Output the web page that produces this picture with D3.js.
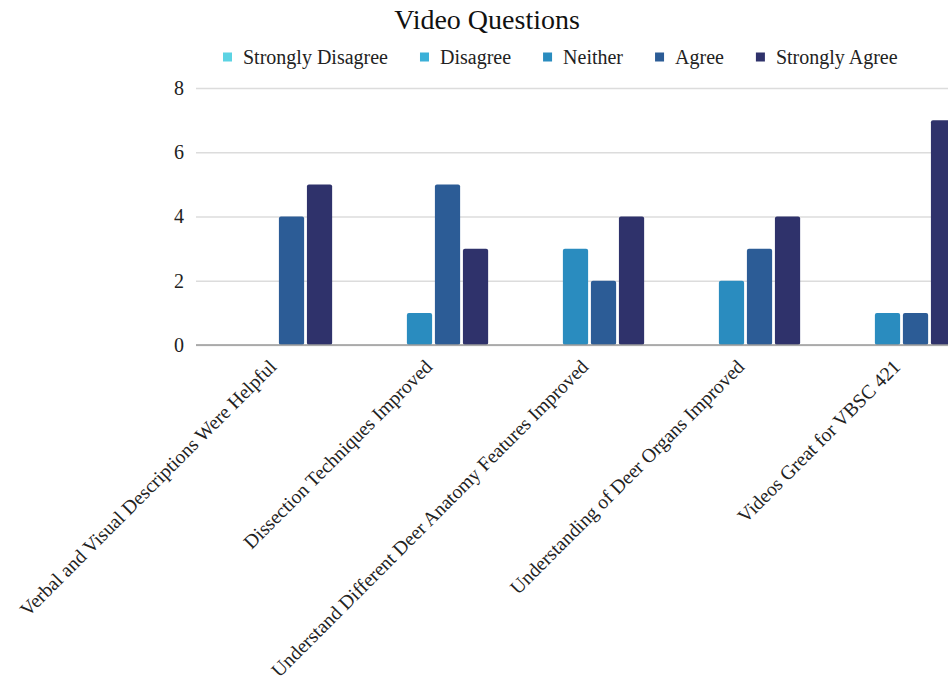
<!DOCTYPE html>
<html>
<head>
<meta charset="utf-8">
<script src="https://cdn.jsdelivr.net/npm/d3@7"></script>
<style>
  html, body { margin: 0; padding: 0; background: #fff; }
  svg { display: block; }
  text { font-family: "Liberation Serif", "Times New Roman", serif; fill: #222; }
</style>
</head>
<body>
<svg id="chart" width="948" height="685"></svg>
<script>
const title = "Video Questions";
const categories = [
  "Verbal and Visual Descriptions Were Helpful",
  "Dissection Techniques Improved",
  "Understand Different Deer Anatomy Features Improved",
  "Understanding of Deer Organs Improved",
  "Videos Great for VBSC 421"
];
const seriesNames = ["Strongly Disagree", "Disagree", "Neither", "Agree", "Strongly Agree"];
const stronglyDisagree = [0, 0, 0, 0, 0];
const disagree = [0, 0, 0, 0, 0];
const neither = [0, 1, 3, 2, 1];
const agree = [4, 5, 2, 3, 1];
const stronglyAgree = [5, 3, 4, 4, 7];
const yTicks = [0, 2, 4, 6, 8];
const colors = ["#5cd3e3", "#3bb0d8", "#2a8cbf", "#2c5c96", "#2f326b"];

const seriesValues = [stronglyDisagree, disagree, neither, agree, stronglyAgree];

const svg = d3.select("#chart");
const W = 948, H = 685;

const x0 = d3.scaleBand().domain(categories).range([185.5, 965.5]).paddingInner(0.12).paddingOuter(0.06);
const x1 = d3.scaleBand().domain(seriesNames).range([0, x0.bandwidth()]).paddingInner(0.1);
const y = d3.scaleLinear().domain([0, 8]).range([345, 88]);

const plotLeft = 196, plotRight = 948;

// Title
svg.append("text").attr("x", 487).attr("y", 29).attr("text-anchor", "middle")
  .style("font-size", "28px").style("fill", "#111").text(title);

// Legend
const legend = svg.append("g");
let lx = 223;
seriesNames.forEach((name, i) => {
  const g = legend.append("g").attr("transform", `translate(${lx},57)`);
  g.append("rect").attr("x", 0).attr("y", -4.5).attr("width", 9).attr("height", 9).attr("fill", colors[i]);
  const t = g.append("text").attr("x", 20).attr("y", 0).attr("dy", "0.34em")
    .style("font-size", "20px").text(name);
  const w = t.node().getComputedTextLength();
  lx += 20 + w + 32;
});

// Grid + y axis
const yAxis = d3.axisLeft(y).tickValues(yTicks).tickSize(-(plotRight - plotLeft)).tickPadding(12);
const gy = svg.append("g").attr("transform", `translate(${plotLeft},0)`).call(yAxis);
gy.select(".domain").remove();
gy.selectAll(".tick line").attr("stroke", "#dcdcdc").attr("stroke-width", 1.3);
gy.selectAll(".tick text").style("font-size", "20px").style("font-family", "Liberation Serif, serif").attr("fill", "#222");

// Bars
const groups = svg.append("g").selectAll("g").data(categories).join("g")
  .attr("transform", d => `translate(${x0(d)},0)`);
groups.selectAll("rect")
  .data((d, ci) => seriesNames.map((s, si) => ({ s, si, v: seriesValues[si][ci] })).filter(e => e.v > 0))
  .join("rect")
  .attr("x", d => x1(d.s))
  .attr("y", d => y(d.v))
  .attr("width", x1.bandwidth())
  .attr("height", d => y(0) - y(d.v))
  .attr("rx", 2)
  .attr("fill", d => colors[d.si]);

// Baseline
svg.append("line").attr("x1", plotLeft).attr("x2", plotRight).attr("y1", y(0)).attr("y2", y(0))
  .attr("stroke", "#9a9a9a").attr("stroke-width", 1.5);

// X axis labels
const xAxis = d3.axisBottom(x0).tickSize(0).tickPadding(0);
const gx = svg.append("g").attr("transform", `translate(0,${y(0)})`).call(xAxis);
gx.select(".domain").remove();
gx.selectAll(".tick text")
  .style("font-size", "19.6px").style("font-family", "Liberation Serif, serif").attr("fill", "#222")
  .attr("text-anchor", "end")
  .attr("dy", 0).attr("y", 0)
  .attr("transform", "translate(14,23) rotate(-45)");
</script>
</body>
</html>
